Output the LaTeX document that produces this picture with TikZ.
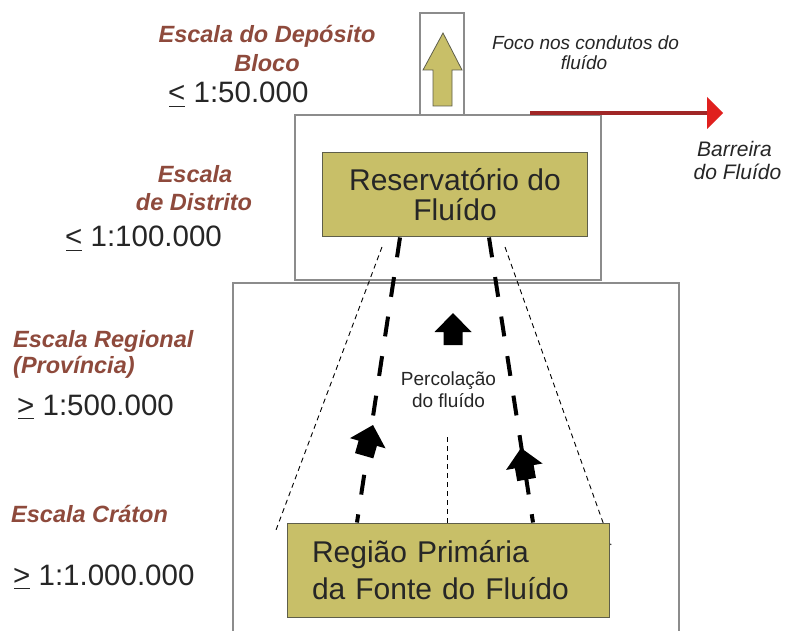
\documentclass[tikz,border=0pt]{standalone}
\usepackage{fontspec}
\setmainfont{Liberation Sans}
\usetikzlibrary{calc}
\definecolor{boxfill}{HTML}{C8BF68}
\definecolor{boxedge}{HTML}{5E5E4A}
\definecolor{framegray}{HTML}{8C8C8C}
\definecolor{brownlab}{HTML}{8E4A3C}
\definecolor{textdark}{HTML}{262626}
\definecolor{redline}{HTML}{A02626}
\definecolor{redhead}{HTML}{E0201E}
\newcommand{\uless}{\makebox[0pt][l]{\hspace{0.03em}\rule[-0.14em]{0.53em}{0.05em}}<}
\newcommand{\ugreater}{\makebox[0pt][l]{\hspace{0.03em}\rule[-0.14em]{0.53em}{0.05em}}>}
\tikzset{
  frame/.style={draw=framegray, line width=1.2pt},
  olivebox/.style={draw=boxedge, fill=boxfill, line width=1pt, text=textdark, inner sep=0pt},
  scalelab/.style={anchor=base, text=brownlab, inner sep=0pt, font=\fontsize{23.5}{28}\selectfont\bfseries\itshape},
  ratiolab/.style={anchor=base west, text=textdark, inner sep=0pt, font=\fontsize{29.5}{30}\selectfont},
  notelab/.style={anchor=base, text=textdark, inner sep=0pt},
  thickdash/.style={line width=4pt, dash pattern=on 20pt off 20pt},
  thindash/.style={line width=0.9pt, dash pattern=on 5pt off 4pt},
  blkarrow/.pic={\fill[black] (0,0) -- (18.5,19) -- (9.5,19) -- (9.5,32) -- (-9.5,32) -- (-9.5,19) -- (-18.5,19) -- cycle;}
}
\begin{document}
\begin{tikzpicture}[x=1pt,y=-1pt]
\useasboundingbox[fill=white] (0,0) rectangle (787,631);

% frames
\draw[frame] (233,631) -- (233,283) -- (679,283) -- (679,631);
\draw[frame] (295,115) rectangle (601,280);
\draw[frame] (420,13) rectangle (464,115);

% olive up arrow in top box
\filldraw[fill=boxfill, draw=boxedge, line width=0.8pt]
  (443,33) -- (462,70) -- (452,70) -- (452,106) -- (433,106) -- (433,70) -- (423,70) -- cycle;

% coordinates
\coordinate (tlA) at (382,247);
\coordinate (tlB) at (276,530);
\coordinate (trA) at (505,247);
\coordinate (trB) at (611,545);
\coordinate (mid) at (447,437);
\coordinate (barA) at (530,113);
\coordinate (barB) at (709,113);
\coordinate (barTip) at (723,113);

% thin dashed guide lines (drawn before the boxes)
\draw[thindash] (tlA) -- (tlB);
\draw[thindash] (trA) -- (trB);

% boxes
\node[olivebox, minimum width=265pt, minimum height=84pt, align=center,
      font=\fontsize{30}{30}\selectfont] (res) at (455,195) {Reservatório do\\Fluído};
\node[olivebox, minimum width=322pt, minimum height=94pt, text width=272pt, align=left,
      font=\fontsize{30}{37}\selectfont] (reg) at (448,570) {Região Primária\\da Fonte do Fluído};

\draw[thindash] (mid) -- (mid |- reg.north);

% thick dashed flow paths
\draw[thickdash] ($(res.south)+(-55,0)$) -- ($(reg.north)+(-91,0)$);
\draw[thickdash] ($(res.south)+(34,0)$) -- ($(reg.north)+(85,0)$);

% black block arrows
\pic at (453,313) {blkarrow};
\pic[rotate=-16] at (373,425) {blkarrow};
\pic[rotate=10] at (521,448) {blkarrow};

% fluid barrier arrow
\draw[redline, line width=4pt] (barA) -- (barB);
\fill[redhead] (barTip) -- (707,97) -- (707,129) -- cycle;

% texts
\node[notelab, font=\fontsize{19}{20}\selectfont\itshape] (foco1) at (585.5,50) {Foco nos condutos do};
\node[notelab, font=\fontsize{19}{20}\selectfont\itshape] (foco2) at (584,70) {fluído};
\node[notelab, font=\fontsize{21}{23}\selectfont\itshape] (bar1) at (734.5,157) {Barreira};
\node[notelab, font=\fontsize{21}{23}\selectfont\itshape] (bar2) at (737.5,180) {do Fluído};
\node[notelab, font=\fontsize{19}{22}\selectfont] (perc1) at (448.5,385) {Percolação};
\node[notelab, font=\fontsize{19}{22}\selectfont] (perc2) at (448.5,407) {do fluído};

\node[scalelab] (dep1) at (267,43) {Escala do Depósito};
\node[scalelab] (dep2) at (267,72) {Bloco};
\node[ratiolab] (dep3) at (168,103) {\uless{} 1:50.000};

\node[scalelab] (dis1) at (195,183) {Escala};
\node[scalelab] (dis2) at (194,211) {de Distrito};
\node[ratiolab] (dis3) at (65,247) {\uless{} 1:100.000};

\node[scalelab, anchor=base west] (reg1) at (13,347) {Escala Regional};
\node[scalelab, anchor=base west] (reg2) at (13,373) {(Província)};
\node[ratiolab] (reg3) at (17,415) {\ugreater{} 1:500.000};

\node[scalelab, anchor=base west] (cra1) at (11,522) {Escala Cráton};
\node[ratiolab] (cra2) at (13,585) {\ugreater{} 1:1.000.000};
\end{tikzpicture}
\end{document}
